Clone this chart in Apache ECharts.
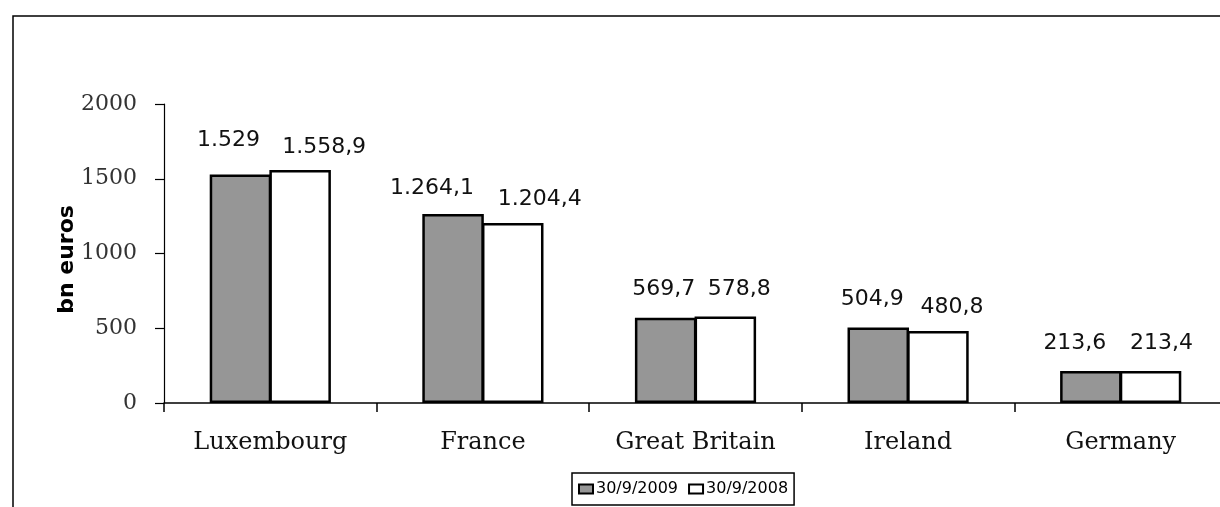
<!DOCTYPE html>
<html>
<head>
<meta charset="utf-8">
<script src="https://cdn.jsdelivr.net/npm/echarts@6/dist/echarts.min.js"></script>
<style>
  html, body { margin: 0; padding: 0; background: #fff; }
  #chart { width: 1220px; height: 507px; }
</style>
</head>
<body>
<div id="chart"></div>
<script>
// Countries and fund assets (bn euros) at two reporting dates
const countries = ['Luxembourg', 'France', 'Great Britain', 'Ireland', 'Germany'];
const seriesNames = ['30/9/2009', '30/9/2008'];
const values2009 = [1529, 1264.1, 569.7, 504.9, 213.6];
const values2008 = [1558.9, 1204.4, 578.8, 480.8, 213.4];
const yTicks = { min: 0, max: 2000, interval: 500 };

// Label nudges [dx, dy] so value labels sit where they do in the printed chart
const labelNudge2009 = [[-12, -23], [-21, -15], [-2, -18], [-6, -17], [-16, -17]];
const labelNudge2008 = [[24, -12], [27, -13], [14, -16], [14, -13], [11, -17]];

// European number format: '.' thousands separator, ',' decimal separator
function euroFormat(v) {
  const parts = String(v).split('.');
  const intPart = parts[0].replace(/\B(?=(\d{3})+(?!\d))/g, '.');
  return parts.length > 1 ? intPart + ',' + parts[1] : intPart;
}

function buildData(values, nudges) {
  return values.map((v, i) => ({
    value: v,
    label: { offset: nudges[i] }
  }));
}

const labelStyle = {
  show: true,
  position: 'top',
  distance: 0,
  fontFamily: 'DejaVu Sans',
  fontSize: 22,
  color: '#111',
  formatter: p => euroFormat(p.value)
};

const chart = echarts.init(document.getElementById('chart'), null, { renderer: 'canvas' });

chart.setOption({
  backgroundColor: '#fff',
  animation: false,
  graphic: [{
    type: 'polyline',
    shape: { points: [[13, 620], [13, 16], [1240, 16]] },
    style: { fill: null, stroke: '#000', lineWidth: 1.5 },
    silent: true
  }],
  legend: {
    data: seriesNames,
    left: 572,
    top: 473,
    icon: 'rect',
    itemWidth: 14,
    itemHeight: 9,
    itemGap: 10,
    padding: [8, 6, 8, 6],
    borderColor: '#000',
    borderWidth: 1.5,
    itemStyle: { borderColor: '#000', borderWidth: 2 },
    textStyle: { fontFamily: 'DejaVu Sans', fontSize: 16, color: '#000', padding: [0, 0, 0, -2] }
  },
  grid: { left: 164, top: 104, width: 1063, height: 299, containLabel: false, outerBoundsMode: 'none' },
  xAxis: {
    type: 'category',
    data: countries,
    axisLine: { lineStyle: { color: '#000', width: 1.5 } },
    axisTick: { show: true, length: 9, lineStyle: { color: '#000', width: 1.5 } },
    axisLabel: { margin: 28, fontFamily: 'DejaVu Serif', fontSize: 24, color: '#111' },
    splitLine: { show: false }
  },
  yAxis: {
    type: 'value',
    min: yTicks.min,
    max: yTicks.max,
    interval: yTicks.interval,
    name: 'bn euros',
    nameLocation: 'middle',
    nameRotate: 90,
    nameGap: 86,
    nameMoveOverlap: false,
    nameTextStyle: { fontFamily: 'DejaVu Sans', fontWeight: 'bold', fontSize: 22, color: '#000', padding: [0, 12, 0, 0] },
    axisLine: { show: true, lineStyle: { color: '#000', width: 1.2 } },
    axisTick: { show: true, length: 9, lineStyle: { color: '#000', width: 1.2 } },
    axisLabel: { margin: 27, fontFamily: 'DejaVu Serif', fontSize: 22, color: '#333', formatter: v => String(v) },
    splitLine: { show: false }
  },
  series: [
    {
      name: seriesNames[0],
      type: 'bar',
      data: buildData(values2009, labelNudge2009),
      barGap: '-3%',
      barCategoryGap: '43%',
      itemStyle: { color: '#969696', borderColor: '#000', borderWidth: 2.5 },
      label: labelStyle
    },
    {
      name: seriesNames[1],
      type: 'bar',
      data: buildData(values2008, labelNudge2008),
      barGap: '-3%',
      barCategoryGap: '43%',
      itemStyle: { color: '#ffffff', borderColor: '#000', borderWidth: 2.5 },
      label: labelStyle
    }
  ]
});
</script>
</body>
</html>
